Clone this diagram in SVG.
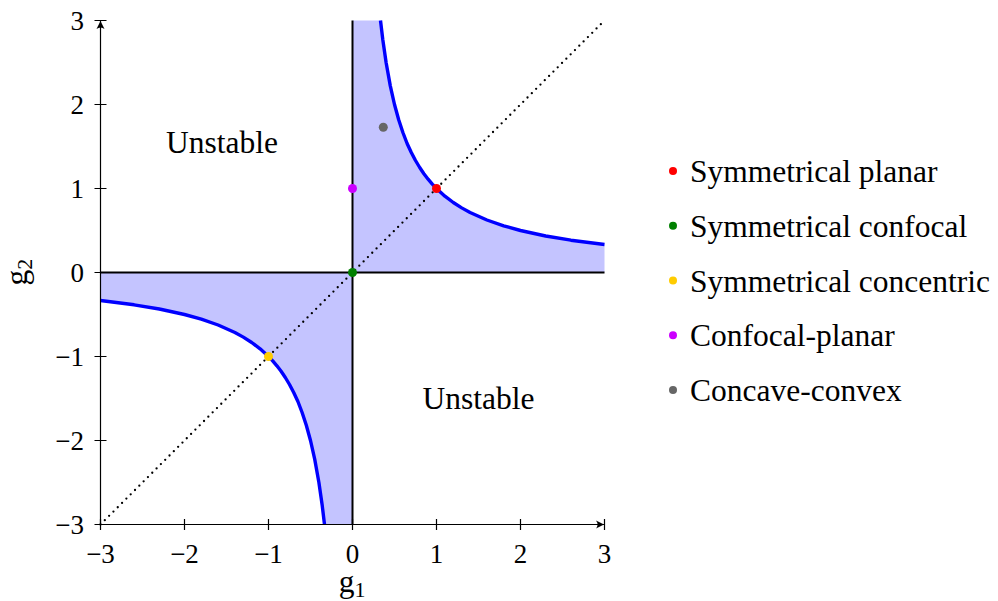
<svg xmlns="http://www.w3.org/2000/svg" width="998" height="601" viewBox="0 0 998 601">
<style>
.t{font-family:'Liberation Serif','Times New Roman','DejaVu Serif',serif;fill:#000}
.tick{font-size:27px}
.lab{font-size:31.5px}
.leg{font-size:31.5px}
.curve{fill:none;stroke:#0000ff;stroke-width:3.4;stroke-linejoin:round}
.fill{fill:#c4c4ff;stroke:none}
.frame{stroke:#000;stroke-width:1.2;fill:none}
.zero{stroke:#000;stroke-width:2;fill:none}
</style>
<defs>
<marker id="arr" viewBox="-10 -5 11 10" refX="0" refY="0" markerWidth="11" markerHeight="10" markerUnits="userSpaceOnUse" orient="auto">
<path d="M0,0 L-8,-4 Q-5,0 -8,4 Z" fill="#000"/>
</marker>
</defs>
<g id="region">
<path class="fill" d="M352.5,20.5 L380.5,20.5 L382.74,39.17 386.1,62.5 390.3,85.83 394.5,104.5 398.7,119.77 402.9,132.5 411.3,152.5 415.5,160.5 419.7,167.5 423.9,173.68 428.1,179.17 432.3,184.08 436.5,188.5 444.9,196.14 453.3,202.5 461.7,207.88 470.1,212.5 486.9,220 503.7,225.83 520.5,230.5 545.7,235.98 570.9,240.19 604.5,244.5 L604.5,272.5 L352.5,272.5 Z"/>
<path class="fill" d="M352.5,524.5 L324.5,524.5 L322.26,505.83 318.9,482.5 314.7,459.17 310.5,440.5 306.3,425.23 302.1,412.5 293.7,392.5 289.5,384.5 285.3,377.5 281.1,371.32 276.9,365.83 272.7,360.92 268.5,356.5 260.1,348.86 251.7,342.5 243.3,337.12 234.9,332.5 218.1,325 201.3,319.17 184.5,314.5 159.3,309.02 134.1,304.81 100.5,300.5 L100.5,272.5 L352.5,272.5 Z"/>
</g>
<g id="zero-axes">
<line class="zero" x1="352.5" y1="20.5" x2="352.5" y2="524.5"/>
<line class="zero" x1="100.5" y1="272.5" x2="604.5" y2="272.5"/>
</g>
<g id="hyperbola">
<polyline class="curve" points="380.5,20.5 382.74,39.17 386.1,62.5 390.3,85.83 394.5,104.5 398.7,119.77 402.9,132.5 407.1,143.5 411.3,152.5 415.5,160.5 419.7,167.5 423.9,173.68 428.1,179.17 432.3,184.08 436.5,188.5 444.9,196.14 453.3,202.5 461.7,207.88 470.1,212.5 486.9,220 503.7,225.83 520.5,230.5 545.7,235.98 570.9,240.19 604.5,244.5"/>
<polyline class="curve" points="324.5,524.5 322.26,505.83 318.9,482.5 314.7,459.17 310.5,440.5 306.3,425.23 302.1,412.5 297.9,401.5 293.7,392.5 289.5,384.5 285.3,377.5 281.1,371.32 276.9,365.83 272.7,360.92 268.5,356.5 260.1,348.86 251.7,342.5 243.3,337.12 234.9,332.5 218.1,325 201.3,319.17 184.5,314.5 159.3,309.02 134.1,304.81 100.5,300.5"/>
</g>
<g id="diagonal">
<line x1="100.5" y1="524.5" x2="604.5" y2="20.5" stroke="#000" stroke-width="2.3" stroke-linecap="round" stroke-dasharray="0 6.1"/>
</g>
<g id="frame">
<line class="frame" x1="100.5" y1="524.5" x2="100.5" y2="21" marker-end="url(#arr)"/>
<line class="frame" x1="100.5" y1="524.5" x2="604" y2="524.5" marker-end="url(#arr)"/>
<path class="frame" d="M100.5,519v11 M184.5,519v11 M268.5,519v11 M352.5,519v11 M436.5,519v11 M520.5,519v11 M604.5,519v11 M94.5,20.5h12 M94.5,104.5h12 M94.5,188.5h12 M94.5,272.5h12 M94.5,356.5h12 M94.5,440.5h12 M94.5,524.5h12"/>
</g>
<g id="xticks" class="t tick" text-anchor="middle">
<text x="100.5" y="563">−3</text>
<text x="184.5" y="563">−2</text>
<text x="268.5" y="563">−1</text>
<text x="352.5" y="563">0</text>
<text x="436.5" y="563">1</text>
<text x="520.5" y="563">2</text>
<text x="604.5" y="563">3</text>
</g>
<g id="yticks" class="t tick" text-anchor="end">
<text x="84" y="29.5">3</text>
<text x="84" y="113.5">2</text>
<text x="84" y="197.5">1</text>
<text x="84" y="281.5">0</text>
<text x="84" y="365.5">−1</text>
<text x="84" y="449.5">−2</text>
<text x="84" y="533.5">−3</text>
</g>
<g id="xlabel" class="t lab"><text x="352" y="592" text-anchor="middle">g<tspan font-size="22" dy="5">1</tspan></text></g>
<g id="ylabel" class="t lab"><text transform="translate(27,272) rotate(-90)" text-anchor="middle">g<tspan font-size="22" dy="5">2</tspan></text></g>
<g id="unstable1" class="t lab"><text x="222" y="153" text-anchor="middle">Unstable</text></g>
<g id="unstable2" class="t lab"><text x="478.5" y="409" text-anchor="middle">Unstable</text></g>
<g id="points">
<circle cx="436.5" cy="188.5" r="4.5" fill="#ff0000"/>
<circle cx="352.5" cy="272.5" r="4.5" fill="#008000"/>
<circle cx="268.5" cy="356.5" r="4.5" fill="#ffcc00"/>
<circle cx="352.5" cy="188.5" r="4.5" fill="#cc00ff"/>
<circle cx="383.3" cy="127.3" r="4.5" fill="#666666"/>
</g>
<g id="legend" class="t leg">
<circle cx="673" cy="171" r="4" fill="#ff0000"/>
<text x="690" y="182">Symmetrical planar</text>
<circle cx="673" cy="225.8" r="4" fill="#008000"/>
<text x="690" y="236.8">Symmetrical confocal</text>
<circle cx="673" cy="280.5" r="4" fill="#ffcc00"/>
<text x="690" y="291.5">Symmetrical concentric</text>
<circle cx="673" cy="335.3" r="4" fill="#cc00ff"/>
<text x="690" y="346.3">Confocal-planar</text>
<circle cx="673" cy="390" r="4" fill="#666666"/>
<text x="690" y="401">Concave-convex</text>
</g>
</svg>
